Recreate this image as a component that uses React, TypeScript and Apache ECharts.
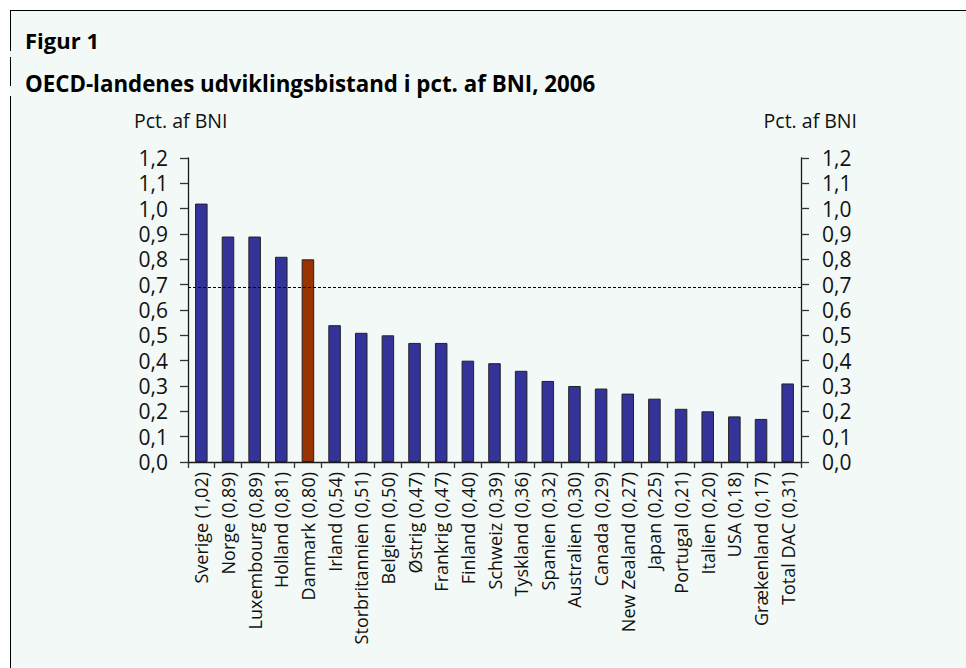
import React, { useEffect, useRef } from "react";
import * as echarts from "echarts";

const countries = [
  "Sverige", "Norge", "Luxembourg", "Holland", "Danmark", "Irland", "Storbritannien",
  "Belgien", "Østrig", "Frankrig", "Finland", "Schweiz", "Tyskland", "Spanien",
  "Australien", "Canada", "New Zealand", "Japan", "Portugal", "Italien", "USA",
  "Grækenland", "Total DAC",
];
const values = [
  1.02, 0.89, 0.89, 0.81, 0.8, 0.54, 0.51, 0.5, 0.47, 0.47, 0.4, 0.39, 0.36, 0.32,
  0.3, 0.29, 0.27, 0.25, 0.21, 0.2, 0.18, 0.17, 0.31,
];
const highlighted = "Danmark";
const targetLine = 0.69;
const yMin = 0;
const yMax = 1.2;
const yStep = 0.1;

const titleLine1 = "Figur 1";
const titleLine2 = "OECD-landenes udviklingsbistand i pct. af BNI, 2006";
const axisTitle = "Pct. af BNI";

const FONT = "'Open Sans', 'Noto Sans', sans-serif";

const fmt = (v: number, d: number) => v.toFixed(d).replace(".", ",");

export default function App() {
  const ref = useRef<HTMLDivElement>(null);
  useEffect(() => {
    if (!ref.current) return;
    const chart = echarts.init(ref.current, null, { renderer: "svg" });
    const labels = countries.map((c, i) => `${c} (${fmt(values[i], 2)})`);
    const yAxisCommon = {
      type: "value" as const,
      min: yMin,
      max: yMax,
      interval: yStep,
      splitLine: { show: false },
      axisLine: { show: true, lineStyle: { color: "#1a1a1a", width: 1.3 } },
      axisTick: { show: true, length: 8, lineStyle: { color: "#333", width: 1.3 } },
    };
    const yLabel = {
      fontSize: 21,
      color: "#111",
      fontFamily: FONT,
      formatter: (v: number) => fmt(v, 1),
    };
    chart.setOption({
      animation: false,
      backgroundColor: "#ffffff",
      textStyle: { fontFamily: FONT },
      grid: { left: 188, right: 165, top: 158, bottom: 206, containLabel: false },
      graphic: [
        { type: "rect", shape: { x: 10, y: 10, width: 956, height: 658 }, style: { fill: "#f2f9f6" }, silent: true },
        { type: "line", shape: { x1: 10, y1: 10.5, x2: 966, y2: 10.5 }, style: { stroke: "#000", lineWidth: 1.2 } },
        { type: "line", shape: { x1: 10.5, y1: 10, x2: 10.5, y2: 51 }, style: { stroke: "#000", lineWidth: 1 } },
        { type: "line", shape: { x1: 10.5, y1: 57, x2: 10.5, y2: 86 }, style: { stroke: "#000", lineWidth: 1 } },
        { type: "line", shape: { x1: 10.5, y1: 96, x2: 10.5, y2: 668 }, style: { stroke: "#000", lineWidth: 1 } },
        {
          type: "text", x: 25, y: 29,
          style: { text: titleLine1, font: `bold 22px ${FONT}`, fill: "#000", verticalAlign: "top" },
        },
        {
          type: "text", x: 25, y: 72,
          style: { text: titleLine2, font: `bold 22.3px ${FONT}`, fill: "#000", verticalAlign: "top" },
        },
        {
          type: "text", x: 134, y: 110,
          style: { text: axisTitle, font: `19.5px ${FONT}`, fill: "#111", verticalAlign: "top" },
        },
        {
          type: "text", x: 857, y: 110,
          style: { text: axisTitle, font: `19.5px ${FONT}`, fill: "#111", verticalAlign: "top", align: "right" },
        },
      ],
      xAxis: {
        type: "category",
        data: labels,
        boundaryGap: true,
        axisLine: { show: true, lineStyle: { color: "#1a1a1a", width: 1.3 } },
        axisTick: { show: true, interval: 0, length: 6, lineStyle: { color: "#333", width: 1.3 } },
        axisLabel: {
          interval: 0,
          rotate: 90,
          margin: 10,
          fontSize: 18,
          color: "#111",
          fontFamily: FONT,
        },
      },
      yAxis: [
        {
          ...yAxisCommon,
          position: "left",
          axisLabel: { ...yLabel, margin: 20 },
        },
        {
          ...yAxisCommon,
          position: "right",
          axisLabel: { ...yLabel, margin: 21 },
        },
      ],
      series: [
        {
          type: "bar",
          yAxisIndex: 0,
          barWidth: "47%",
          data: values.map((v, i) => ({
            value: v,
            itemStyle: {
              color: countries[i] === highlighted ? "#993300" : "#333399",
              borderColor: "#222",
              borderWidth: 1,
            },
          })),
          markLine: {
            silent: true,
            symbol: ["none", "none"],
            label: { show: false },
            lineStyle: { type: [3, 2], color: "#000", width: 1 },
            data: [{ yAxis: targetLine }],
          },
        },
      ],
    });
    return () => chart.dispose();
  }, []);
  return (
    <div
      ref={ref}
      style={{ position: "absolute", left: 0, top: 0, width: 966, height: 668 }}
    />
  );
}
